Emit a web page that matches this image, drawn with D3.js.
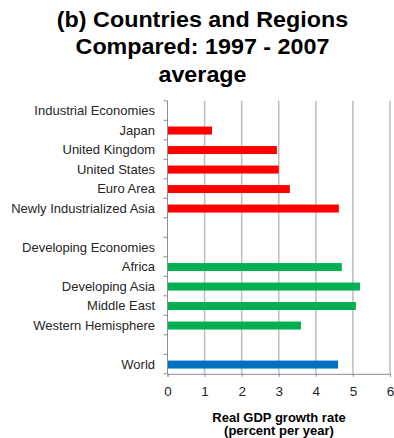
<!DOCTYPE html>
<html>
<head>
<meta charset="utf-8">
<script src="https://cdn.jsdelivr.net/npm/d3@7"></script>
<style>
  html, body { margin: 0; padding: 0; background: #fff; }
  svg { display: block; }
</style>
</head>
<body>
<svg id="chart" width="394" height="438"></svg>
<script>
// Rows top to bottom; group headers and spacers carry no value
const categories = [
  "Industrial Economies", "Japan", "United Kingdom", "United States", "Euro Area",
  "Newly Industrialized Asia", "", "Developing Economies", "Africa", "Developing Asia",
  "Middle East", "Western Hemisphere", " ", "World"
];
const growth = [null, 1.2, 2.95, 3.0, 3.3, 4.62, null, null, 4.7, 5.19, 5.08, 3.6, null, 4.6];
const groups = [null, "ind", "ind", "ind", "ind", "ind", null, null, "dev", "dev", "dev", "dev", null, "world"];
const groupColors = { ind: "#FF0000", dev: "#00B050", world: "#0070C0" };
const xTicks = [0, 1, 2, 3, 4, 5, 6];
const titleLines = ["(b) Countries and Regions", "Compared: 1997 - 2007", "average"];
const axisTitle = ["Real GDP growth rate", "(percent per year)"];

const svg = d3.select("#chart");
const font = "Liberation Sans, Arial, sans-serif";
const margin = { left: 167.5, right: 4, top: 100.8, bottom: 64.2 };
const W = 394, H = 438;

const x = d3.scaleLinear().domain([0, 6]).range([margin.left, W - margin.right]);
const y = d3.scaleBand().domain(categories).range([margin.top, H - margin.bottom]);

// Title, slightly widened
const titleCx = 202.5;
svg.append("g")
  .attr("transform", `translate(${titleCx},0) scale(1.06,1)`)
  .selectAll("text").data(titleLines).join("text")
  .attr("x", 0).attr("y", (d, i) => 27.3 + i * 27.2)
  .attr("text-anchor", "middle")
  .attr("font-family", font).attr("font-weight", "bold").attr("font-size", 22)
  .attr("fill", "#000").text(d => d);

// Vertical gridlines
svg.append("g").selectAll("line").data(xTicks.filter(t => t > 0)).join("line")
  .attr("x1", d => x(d)).attr("x2", d => x(d))
  .attr("y1", margin.top).attr("y2", H - margin.bottom)
  .attr("stroke", "#BEBEBE").attr("stroke-width", 1.5);

// Bars
const rows = categories.map((c, i) => ({ c, v: growth[i], g: groups[i] })).filter(d => d.v != null);
const barH = 8;
svg.append("g").selectAll("rect").data(rows).join("rect")
  .attr("x", x(0))
  .attr("y", d => y(d.c) + y.bandwidth() / 2 - barH / 2 + 0.5)
  .attr("width", d => x(d.v) - x(0))
  .attr("height", barH)
  .attr("fill", d => groupColors[d.g]);

// Y axis with outward ticks at band boundaries
const yAxisG = svg.append("g");
yAxisG.append("line")
  .attr("x1", x(0)).attr("x2", x(0))
  .attr("y1", margin.top).attr("y2", H - margin.bottom)
  .attr("stroke", "#8C8C8C").attr("stroke-width", 1);
const boundaries = d3.range(categories.length + 1).map(i => margin.top + i * y.step());
yAxisG.selectAll("line.tick").data(boundaries).join("line")
  .attr("class", "tick")
  .attr("x1", x(0) - 4).attr("x2", x(0))
  .attr("y1", d => d).attr("y2", d => d)
  .attr("stroke", "#8C8C8C").attr("stroke-width", 1);
yAxisG.selectAll("text").data(categories).join("text")
  .attr("x", 155).attr("y", d => y(d) + y.bandwidth() / 2 + 4.5)
  .attr("text-anchor", "end")
  .attr("font-family", font).attr("font-size", 13)
  .attr("fill", "#262626").text(d => d.trim());

// X axis
const xAxis = d3.axisBottom(x).tickValues(xTicks).tickSize(3).tickPadding(10).tickFormat(d3.format("d"));
const xg = svg.append("g").attr("transform", `translate(0,${H - margin.bottom})`).call(xAxis);
xg.select(".domain").attr("stroke", "#8C8C8C").attr("stroke-width", 1);
xg.selectAll(".tick line").attr("stroke", "#8C8C8C");
xg.selectAll("text").attr("font-family", font).attr("font-size", 13.5).attr("fill", "#262626");

// Axis title
svg.append("g").selectAll("text").data(axisTitle).join("text")
  .attr("x", 279).attr("y", (d, i) => 421.5 + i * 13.5)
  .attr("text-anchor", "middle")
  .attr("font-family", font).attr("font-weight", "bold").attr("font-size", 13)
  .attr("fill", "#000").text(d => d);
</script>
</body>
</html>
